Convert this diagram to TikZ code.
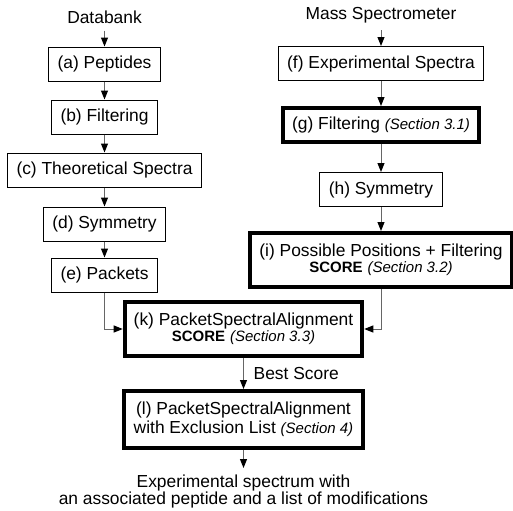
\documentclass[tikz,border=0pt]{standalone}
\usepackage{fontspec}
\setmainfont{Liberation Sans}
\usetikzlibrary{arrows.meta,positioning}
\newcommand\secnote[1]{{\fontsize{7.5}{8}\selectfont\itshape(#1)}}
\newcommand\scoretag{{\fontsize{7.5}{8}\selectfont\bfseries SCORE}}
\tikzset{
  stage/.style={draw, line width=0.5pt, minimum height=17pt, inner xsep=4.5pt, align=center, font=\fontsize{8.7}{9.6}\selectfont},
  keystage/.style={stage, line width=2pt},
  src/.style={font=\fontsize{8.7}{9.6}\selectfont, align=center},
  flow/.style={-{Triangle[length=4.5pt,width=3.5pt,color=black]}, draw=black!60, line width=0.5pt}
}

\begin{document}
\begin{tikzpicture}
  \useasboundingbox (0,0) rectangle (256.5pt,-255pt);
  % databank side
  \node[stage] (pep) at (52.25pt,-32pt) {(a) Peptides};
  \node[src,above=8pt of pep] (bank) {Databank};
  \node[stage,below=9pt of pep] (filt) {(b) Filtering};
  \node[stage,below=9pt of filt] (theo) {(c) Theoretical Spectra};
  \node[stage,below=9.5pt of theo] (symL) {(d) Symmetry};
  \node[stage,below=8pt of symL] (pack) {(e) Packets};
  % spectrometer side
  \node[stage] (exp) at (190.5pt,-31.75pt) {(f) Experimental Spectra};
  \node[src,above=8pt of exp] (ms) {Mass Spectrometer};
  \node[keystage,below=12.5pt of exp] (filtR) {(g) Filtering \secnote{Section 3.1}};
  \node[stage,below=14pt of filtR] (symR) {(h) Symmetry};
  \node[keystage,below=12pt of symR,minimum height=27pt] (poss) {(i) Possible Positions + Filtering\\[-1.5pt] \scoretag{} \secnote{Section 3.2}};
  % alignment
  \node[keystage,minimum height=27pt] (align) at (121.75pt,-164.5pt) {(k) PacketSpectralAlignment\\[-1.5pt] \scoretag{} \secnote{Section 3.3}};
  \node[keystage,below=15.5pt of align,minimum height=28.5pt,minimum width=119.5pt] (excl) {(l) PacketSpectralAlignment\\ with Exclusion List \secnote{Section 4}};
  \node[src,below=9pt of excl] (result) {Experimental spectrum with\\[-1pt] an associated peptide and a list of modifications};

  \draw[flow] (bank) -- (pep);
  \draw[flow] (pep) -- (filt);
  \draw[flow] (filt) -- (theo);
  \draw[flow] (theo) -- (symL);
  \draw[flow] (symL) -- (pack);
  \draw[flow] (ms) -- (exp);
  \draw[flow] (exp) -- (filtR);
  \draw[flow] (filtR) -- (symR);
  \draw[flow] (symR) -- (poss);
  \draw[flow] (pack) |- (align);
  \draw[flow] (poss) |- (align);
  \draw[flow] (align) -- node[src,right=1.5pt] {Best Score} (excl);
  \draw[flow] (excl) -- (result);
\end{tikzpicture}
\end{document}
